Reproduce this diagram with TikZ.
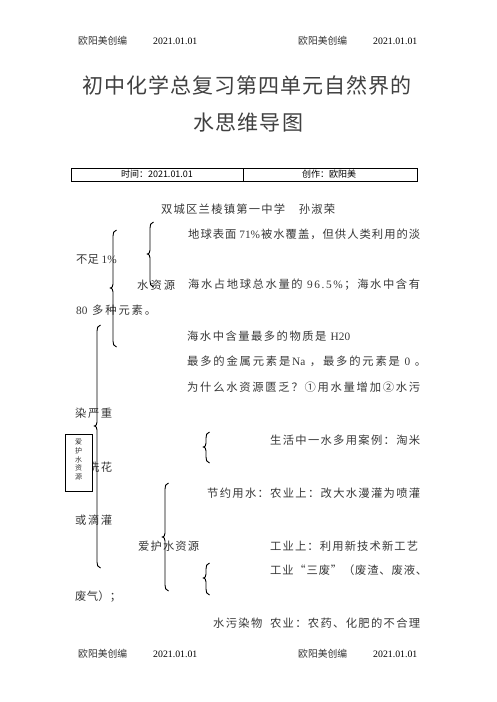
\documentclass[tikz,border=0pt]{standalone}
\usepackage{fontspec}
\setmainfont{Noto Sans CJK SC}
\newfontfamily\lat{Liberation Serif}
\ExplSyntaxOn
\NewDocumentCommand\spread{mm}
  {\makebox[#1pt][s]{\tl_map_inline:nn{#2}{{##1}\hfil}\unskip}}
\ExplSyntaxOff
\newcommand\wbrace[4]{%
  \draw[bracepath] (#1+3.5,#2) .. controls (#1+0.6,#2+0.8) and (#1,#2+3) .. (#1,#2+6)
    -- (#1,#3-4) .. controls (#1,#3-1.5) and (#1-1,#3) .. (#1-2.6,#3)
    .. controls (#1-1,#3) and (#1,#3+1.5) .. (#1,#3+4)
    -- (#1,#4-6) .. controls (#1,#4-3) and (#1+0.6,#4-0.8) .. (#1+3.5,#4);}
\tikzset{
  body/.style={font=\fontsize{11.3}{13}\selectfont, inner sep=0pt, anchor=west, text=black!78},
  titlef/.style={font=\fontsize{21}{25}\selectfont, inner sep=0pt, anchor=west, text=black!75},
  hdr/.style={font=\fontsize{9.8}{11}\selectfont, inner sep=0pt, anchor=west, text=black!80},
  hdrnum/.style={font=\lat\fontsize{9.8}{11}\selectfont, inner sep=0pt, anchor=west, text=black},
  tbl/.style={font=\fontsize{9}{10}\selectfont, inner sep=0pt},
  bracepath/.style={line width=0.9pt, black},
}
\begin{document}
\begin{tikzpicture}[x=1pt,y=-1pt]
\useasboundingbox[fill=white] (0,0) rectangle (496,702);
% header / footer
\node[hdr] (h1) at (78,41) {欧阳美创编};
\node[hdrnum] (h2) at (153,41) {2021.01.01};
\node[hdr] (h3) at (298,41) {欧阳美创编};
\node[hdrnum] (h4) at (373,41) {2021.01.01};
\node[hdr] (f1) at (78,654) {欧阳美创编};
\node[hdrnum] (f2) at (153,654) {2021.01.01};
\node[hdr] (f3) at (298,654) {欧阳美创编};
\node[hdrnum] (f4) at (373,654) {2021.01.01};
% title
\node[titlef] (t1) at (82,85) {\spread{329}{初中化学总复习第四单元自然界的}};
\node[titlef] (t2) at (193,123) {\spread{110}{水思维导图}};
% table
\draw[line width=0.8pt] (71,168) rectangle (417,181);
\draw[line width=0.8pt] (243,168) -- (243,181);
\node[tbl] (c1) at (157,174.5) {时间：2021.01.01};
\node[tbl] (c2) at (329,174.5) {创作：欧阳美};
% body
\node[body] (a0) at (161,209) {\spread{174}{双城区兰棱镇第一中学　孙淑荣}};
\node[body] (a1) at (188,234) {\spread{232}{地球表面{\lat\,71\%}被水覆盖，但供人类利用的淡}};
\node[body] (a2) at (76,259) {不足{\lat\ 1\%}};
\node[body] (a3) at (137,285) {\spread{38}{水资源}};
\node[body] (a4) at (188,285) {\spread{232}{海水占地球总水量的{\lat\ 9}{\lat 6}{\lat .}{\lat 5}{\lat\%}；海水中含有}};
\node[body] (a5) at (76,310) {\spread{80}{{\lat 80\ }多种元素。}};
\node[body] (a6) at (187,336) {\spread{163}{海水中含量最多的物质是{\lat\ H20}}};
\node[body] (a7) at (187,361) {\spread{239}{最多的金属元素是{\lat Na\ }，最多的元素是{\lat\ 0\ }。}};
\node[body] (a8) at (187,387) {\spread{233}{为什么水资源匮乏？①用水量增加②水污}};
\node[body] (a9) at (75,413) {\spread{37}{染严重}};
\node[body] (b1) at (270,440) {\spread{150}{生活中一水多用案例：淘米}};
\node[body] (b2) at (88,467) {\spread{24}{洗花}};
\node[body] (b3) at (207,493) {\spread{213}{节约用水：农业上：改大水漫灌为喷灌}};
\node[body] (b4) at (75,520) {\spread{37}{或滴灌}};
\node[body] (b5) at (138,546) {\spread{61}{爱护水资源}};
\node[body] (b6) at (270,546) {\spread{148}{工业上：利用新技术新工艺}};
\node[body] (b7) at (270,570) {\spread{157}{工业“三废”（废渣、废液、}};
\node[body] (b8) at (75,597) {\spread{46}{废气）；}};
\node[body] (b9) at (213,623) {\spread{207}{水污染物{\hspace{5pt}}农业：农药、化肥的不合理}};
% box with vertical text
\node[draw, fill=white, line width=0.8pt, minimum width=27pt, minimum height=57pt, inner sep=0pt] (box) at (78.5,462.5) {};
\node[font=\fontsize{7}{8.75}\selectfont, align=center, inner sep=0pt, text=black!80] (boxtxt) at (78.5,459.5) {爱\\护\\水\\资\\源};
% braces
\wbrace{150}{222}{254}{287}
\wbrace{113}{230}{288}{347}
\wbrace{97}{325}{426}{568}
\wbrace{206}{432}{447}{463}
\wbrace{165}{483}{537}{591}
\wbrace{206}{563}{578}{595}
\end{tikzpicture}
\end{document}
